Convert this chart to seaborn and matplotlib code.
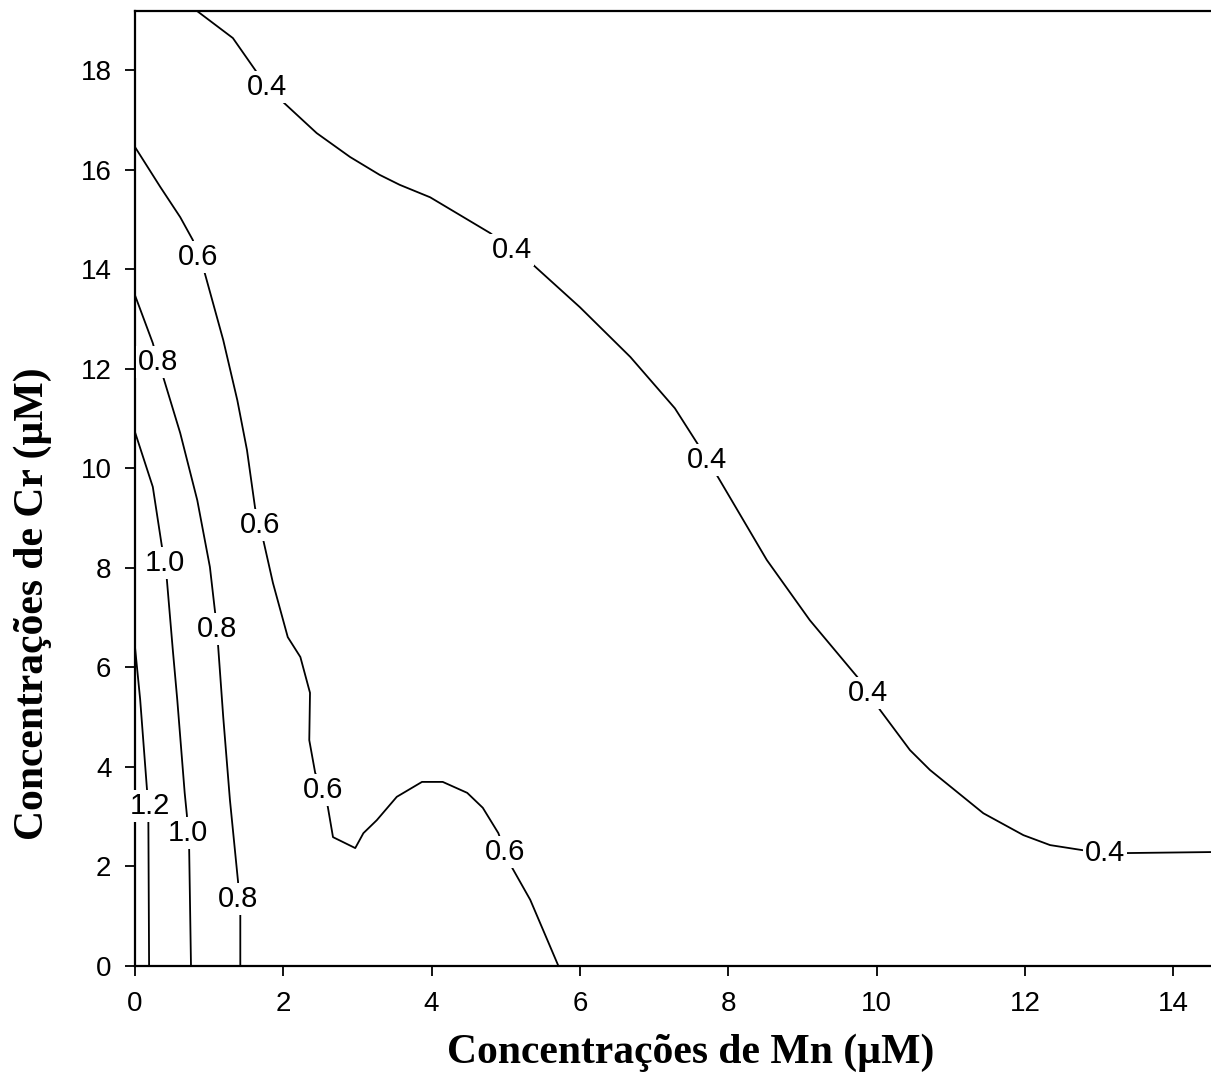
import numpy as np
import pandas as pd
import matplotlib
matplotlib.use("Agg")
import matplotlib.pyplot as plt
import seaborn as sns

# ---- contour paths (Mn µM, Cr µM) ----
c04_mn = [0.84, 1.32, 1.62, 1.78, 2.00, 2.45, 2.90, 3.30, 3.57, 3.98, 4.79, 5.08, 5.37, 6.00,
          6.68, 7.28, 7.58, 7.72, 7.86, 8.52, 9.10, 9.74, 9.89, 10.05, 10.45, 10.72, 11.44,
          11.98, 12.34, 12.77, 13.06, 13.38, 14.51]
c04_cr = [19.19, 18.65, 18.01, 17.66, 17.36, 16.74, 16.26, 15.90, 15.70, 15.45, 14.73, 14.39,
          14.09, 13.24, 12.24, 11.21, 10.51, 10.17, 9.83, 8.16, 6.95, 5.81, 5.49, 5.14, 4.34,
          3.94, 3.07, 2.63, 2.43, 2.33, 2.27, 2.27, 2.29]

c06_mn = [0.00, 0.34, 0.61, 0.78, 0.85, 0.94, 1.19, 1.38, 1.51, 1.62, 1.69, 1.73, 1.86, 2.06,
          2.23, 2.36, 2.35, 2.43, 2.54, 2.60, 2.67, 2.97, 3.08, 3.26, 3.53, 3.87, 4.15, 4.48,
          4.69, 4.90, 4.99, 5.08, 5.33, 5.71]
c06_cr = [16.46, 15.66, 15.05, 14.59, 14.25, 13.93, 12.58, 11.37, 10.37, 9.20, 8.86, 8.56, 7.70,
          6.61, 6.21, 5.49, 4.54, 3.88, 3.54, 3.20, 2.59, 2.37, 2.67, 2.93, 3.40, 3.70, 3.70,
          3.48, 3.18, 2.67, 2.29, 1.99, 1.33, 0.00]

c08_mn = [0.00, 0.24, 0.31, 0.38, 0.61, 0.84, 1.01, 1.08, 1.11, 1.12, 1.19, 1.28, 1.39, 1.39,
          1.42, 1.42]
c08_cr = [13.48, 12.52, 12.14, 11.84, 10.71, 9.36, 8.02, 7.11, 6.77, 6.45, 5.00, 3.34, 1.69,
          1.35, 1.02, 0.00]

c10_mn = [0.00, 0.24, 0.36, 0.40, 0.43, 0.51, 0.57, 0.67, 0.70, 0.71, 0.73, 0.755]
c10_cr = [10.73, 9.63, 8.46, 8.10, 7.76, 6.35, 5.35, 3.48, 3.03, 2.67, 2.39, 0.00]

c12_mn = [0.00, 0.07, 0.16, 0.18, 0.18, 0.19]
c12_cr = [6.41, 5.35, 3.58, 3.22, 2.99, 0.00]

levels = ["0.4", "0.6", "0.8", "1.0", "1.2"]
paths_mn = [c04_mn, c06_mn, c08_mn, c10_mn, c12_mn]
paths_cr = [c04_cr, c06_cr, c08_cr, c10_cr, c12_cr]

# ---- inline contour labels ----
label_text = ["0.4", "0.4", "0.4", "0.4", "0.4",
              "0.6", "0.6", "0.6", "0.6",
              "0.8", "0.8", "0.8",
              "1.0", "1.0",
              "1.2"]
label_mn = [1.78, 5.08, 7.72, 9.89, 13.08,
            0.85, 1.69, 2.54, 4.99,
            0.31, 1.11, 1.39,
            0.40, 0.71,
            0.20]
label_cr = [17.66, 14.39, 10.17, 5.49, 2.27,
            14.25, 8.86, 3.54, 2.29,
            12.14, 6.77, 1.35,
            8.10, 2.67,
            3.22]

x_ticks = [0, 2, 4, 6, 8, 10, 12, 14]
y_ticks = [0, 2, 4, 6, 8, 10, 12, 14, 16, 18]

rows = []
for lev, xs, ys in zip(levels, paths_mn, paths_cr):
    for i, (a, b) in enumerate(zip(xs, ys)):
        rows.append({"level": lev, "order": i, "mn": a, "cr": b})
df = pd.DataFrame(rows)

sns.set_theme(style="ticks")
plt.rcParams["font.family"] = ["Liberation Sans", "DejaVu Sans"]

fig = plt.figure(figsize=(12.11, 10.80), dpi=100)
ax = fig.add_axes([135 / 1211, 1 - 966 / 1080, 1 - 135 / 1211, (966 - 10.7) / 1080])

sns.lineplot(data=df, x="mn", y="cr", units="level", estimator=None, sort=False,
             color="black", linewidth=1.3, ax=ax, legend=False)

for t, a, b in zip(label_text, label_mn, label_cr):
    ax.text(a, b, t, ha="center", va="center", fontsize=21, color="black", zorder=4,
            bbox=dict(facecolor="white", edgecolor="none", pad=1.5))

ax.set_xlim(0, 14.51)
ax.set_ylim(0, 19.2)
ax.set_xticks(x_ticks)
ax.set_yticks(y_ticks)
ax.tick_params(axis="both", direction="out", length=7, width=1.3, labelsize=20,
               color="black", labelcolor="black")
ax.tick_params(axis="x", pad=11)
ax.tick_params(axis="y", pad=10)
for side in ["left", "bottom", "top"]:
    ax.spines[side].set_linewidth(1.6)
    ax.spines[side].set_color("black")
ax.spines["right"].set_visible(False)

ax.set_xlabel("Concentrações de Mn (µM)", fontsize=30, fontweight="bold", color="black",
              family=["Liberation Serif", "DejaVu Serif"])
ax.set_ylabel("Concentrações de Cr (µM)", fontsize=30, fontweight="bold", color="black",
              family=["Liberation Serif", "DejaVu Serif"])
ax.xaxis.set_label_coords(0.516, -0.071)
ax.yaxis.set_label_coords(-0.077, 0.379)

fig.savefig("out.png", dpi=100, facecolor="white")
